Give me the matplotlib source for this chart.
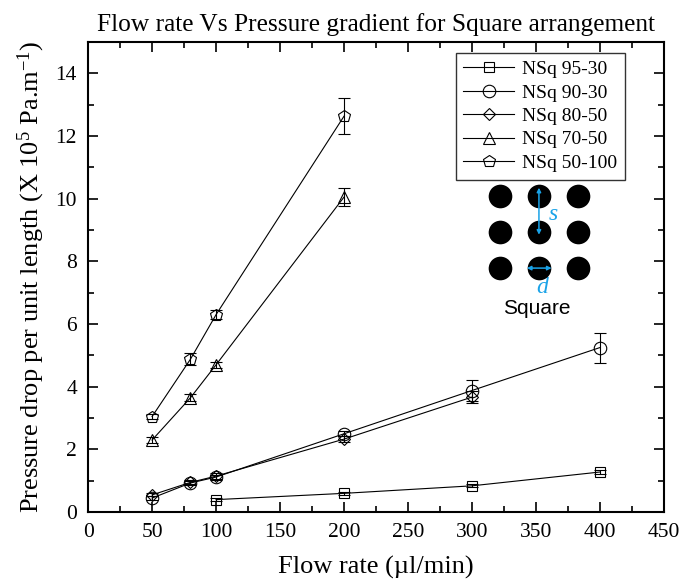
import matplotlib
matplotlib.use("Agg")
import matplotlib.pyplot as plt
from matplotlib.lines import Line2D
from matplotlib.ticker import MultipleLocator

plt.rcParams['font.family'] = ['Liberation Serif', 'DejaVu Serif']
plt.rcParams['mathtext.fontset'] = 'custom'
plt.rcParams['mathtext.rm'] = 'Liberation Serif'
plt.rcParams['mathtext.it'] = 'Liberation Serif:italic'

# data
x_9530 = [100, 200, 300, 400]
y_9530 = [0.40, 0.60, 0.84, 1.28]
e_9530 = [0.04, 0.04, 0.05, 0.06]

x_9030 = [50, 80, 100, 200, 300, 400]
y_9030 = [0.45, 0.93, 1.12, 2.50, 3.88, 5.25]
e_9030 = [0.05, 0.06, 0.08, 0.08, 0.35, 0.48]

x_8050 = [50, 80, 100, 200, 300]
y_8050 = [0.55, 0.95, 1.15, 2.33, 3.67]
e_8050 = [0.05, 0.06, 0.10, 0.10, 0.20]

x_7050 = [50, 80, 100, 200]
y_7050 = [2.30, 3.65, 4.70, 10.05]
e_7050 = [0.10, 0.12, 0.10, 0.30]

x_50100 = [50, 80, 100, 200]
y_50100 = [3.05, 4.88, 6.30, 12.63]
e_50100 = [0.08, 0.20, 0.15, 0.58]

labels = ['NSq 95-30', 'NSq 90-30', 'NSq 80-50', 'NSq 70-50', 'NSq 50-100']
markers = ['s', 'o', 'D', '^', 'p']
sizes = [7, 9, 6, 9, 9]

fig = plt.figure(figsize=(6.83, 5.82), dpi=100)
ax = fig.add_axes([0.129, 0.120, 0.843, 0.808])

series = [(x_9530, y_9530, e_9530), (x_9030, y_9030, e_9030), (x_8050, y_8050, e_8050),
          (x_7050, y_7050, e_7050), (x_50100, y_50100, e_50100)]
handles = []
for (xs, ys, es), lab, m, ms in zip(series, labels, markers, sizes):
    ax.errorbar(xs, ys, yerr=es, fmt='-', marker=m, color='black', mfc='none', mec='black',
                ms=ms, mew=0.8, lw=0.8, elinewidth=0.8, capsize=4, capthick=0.8)
    handles.append(Line2D([], [], color='black', lw=0.8, marker=m, ms=ms, mfc='none',
                          mec='black', mew=0.8, label=lab))

ax.set_xlim(0, 450)
ax.set_ylim(0, 15)
ax.xaxis.set_major_locator(MultipleLocator(50))
ax.xaxis.set_minor_locator(MultipleLocator(25))
ax.yaxis.set_major_locator(MultipleLocator(2))
ax.yaxis.set_minor_locator(MultipleLocator(1))
ax.tick_params(which='both', direction='in', top=True, right=True, width=1.2, labelsize=15.5)
ax.tick_params(which='major', length=7, pad=8)
ax.tick_params(which='minor', length=4)
for sp in ax.spines.values():
    sp.set_linewidth(1.5)

ax.set_title('Flow rate Vs Pressure gradient for Square arrangement', fontsize=18.3, pad=8)
ax.set_xlabel('Flow rate (\u00b5l/min)', fontsize=19, labelpad=10)
ax.set_ylabel('Pressure drop per unit length (X 10$^5$ Pa.m$^{-1}$)', fontsize=19, labelpad=6)

leg = ax.legend(handles=handles, loc='upper right', bbox_to_anchor=(0.932, 0.977), fontsize=14,
                frameon=True, fancybox=False, edgecolor='black', handlelength=2.6,
                borderpad=0.4, labelspacing=0.3, handletextpad=0.4, borderaxespad=0)
leg.get_frame().set_linewidth(1.0)

# inset sketch of the square arrangement
cx = [0.715, 0.783, 0.851]
cy = [0.672, 0.596, 0.519]
for yy in cy:
    ax.scatter(cx, [yy] * 3, s=290, color='black', linewidths=0, transform=ax.transAxes, zorder=5)
blue = '#1aa3e8'
ax.annotate('', xy=(0.783, 0.690), xytext=(0.783, 0.590), xycoords='axes fraction',
            arrowprops=dict(arrowstyle='<|-|>', color=blue, lw=1.1, mutation_scale=6,
                            shrinkA=0, shrinkB=0), zorder=6)
ax.annotate('', xy=(0.762, 0.519), xytext=(0.805, 0.519), xycoords='axes fraction',
            arrowprops=dict(arrowstyle='<|-|>', color=blue, lw=1.1, mutation_scale=6,
                            shrinkA=0, shrinkB=0), zorder=6)
ax.text(0.808, 0.634, 's', transform=ax.transAxes, color=blue, fontsize=17, style='italic',
        ha='center', va='center')
ax.text(0.788, 0.478, 'd', transform=ax.transAxes, color=blue, fontsize=17, style='italic',
        ha='center', va='center')
ax.text(0.78, 0.434, 'Square', transform=ax.transAxes, fontsize=15, ha='center', va='center',
        family=['Liberation Sans', 'DejaVu Sans'])

fig.savefig('out.png', dpi=100)
